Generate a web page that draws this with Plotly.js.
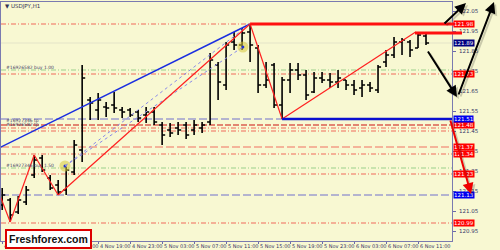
<!DOCTYPE html>
<html><head><meta charset="utf-8">
<script src="https://cdn.plot.ly/plotly-3.0.1.min.js"></script>
<style>html,body{margin:0;padding:0;background:#f8f8d2}#c{width:500px;height:250px}</style>
</head><body><div id="c"></div>
<script>
// ---- data (USDJPY H1) ----
const opens  = [121.08,121.105,121.045,121.095,121.23,121.315,121.215,121.18,121.155,121.245,121.355,121.605,121.555,121.57,121.58,121.555,121.555,121.545,121.53,121.545,121.48,121.455,121.465,121.48,121.455,121.465,121.495,121.78,121.68,121.895,121.88,121.945,121.865,121.68,121.78,121.58,121.705,121.755,121.73,121.645,121.715,121.705,121.695,121.705,121.68,121.665,121.68,121.655,121.795,121.83,121.895,121.895,121.865,121.925];
const highs  = [121.165,121.115,121.125,121.175,121.33,121.33,121.23,121.205,121.27,121.405,121.78,121.62,121.64,121.595,121.645,121.57,121.565,121.555,121.57,121.57,121.495,121.49,121.495,121.495,121.505,121.495,121.84,121.795,121.895,121.945,121.965,121.985,121.88,121.795,121.79,121.72,121.79,121.79,121.755,121.745,121.745,121.74,121.755,121.705,121.705,121.705,121.695,121.78,121.855,121.92,121.915,121.905,121.945,121.94];
const lows   = [121.055,120.995,121.035,121.08,121.215,121.245,121.155,121.13,121.13,121.23,121.295,121.505,121.505,121.52,121.54,121.515,121.52,121.495,121.49,121.48,121.38,121.42,121.43,121.41,121.43,121.44,121.48,121.605,121.655,121.855,121.855,121.795,121.64,121.665,121.565,121.51,121.64,121.705,121.605,121.64,121.69,121.665,121.665,121.655,121.63,121.62,121.645,121.64,121.77,121.815,121.83,121.82,121.865,121.88];
const closes = [121.13,121.03,121.105,121.155,121.305,121.255,121.165,121.145,121.255,121.38,121.715,121.59,121.605,121.565,121.565,121.545,121.53,121.515,121.545,121.495,121.43,121.44,121.455,121.43,121.48,121.48,121.805,121.695,121.88,121.88,121.94,121.88,121.68,121.705,121.58,121.705,121.755,121.73,121.63,121.715,121.705,121.695,121.715,121.68,121.655,121.68,121.665,121.77,121.83,121.895,121.905,121.855,121.93,121.89];
const tickBars   = [0,4,8,12,16,20,24,28,32,36,40,44,48,52];
const tickLabels = ["4 Nov 07:00","4 Nov 11:00","4 Nov 15:00","4 Nov 19:00","4 Nov 23:00","5 Nov 03:00","5 Nov 07:00","5 Nov 11:00","5 Nov 15:00","5 Nov 19:00","5 Nov 23:00","6 Nov 03:00","6 Nov 07:00","6 Nov 11:00"];
const priceTicks = [120.95,121.05,121.15,121.25,121.35,121.45,121.55,121.65,121.75,121.85,121.95,122.05];
// horizontal levels
const redDashDotLevels = [121.985,121.735,121.465,121.45,121.335,121.235,120.99];
const greenLevels      = [121.755,121.265];
const blueDashLevels   = [121.51,121.13];
const darkRedLevels    = [121.48];
const redDashLevels    = [121.37];
const bidPrice = 121.89;
// price boxes on the right scale
const redBoxPrices  = [121.985,121.735,121.48,121.37,121.335,121.235,120.99];
const redBoxLabels  = ["121.98","121.73","121.48","121.37","121.34","121.23","120.99"];
const blueBoxPrices = [121.51,121.13];
const blueBoxLabels = ["121.51","121.13"];
// trend lines [bar, price]
const zigzag   = [[-0.4,121.14],[1,120.995],[4,121.33],[7,121.13],[31,121.985],[35,121.51],[51.7,121.945]];
const channel  = [[-0.4,121.365],[31,121.985]];
const dotted1  = [[7.85,121.275],[31,121.985]];
const dotted2  = [[7.85,121.275],[30.1,121.87]];
// order markers
const orderBars   = [7.85,30.1];
const orderPrices = [121.275,121.87];
// order labels
const orderLabels = [["#16926582 buy 1.00",121.755],["#16927346 tp",121.49],["#16926582 tp",121.472],["#16927346 buy 1.50",121.265]];
const resistance = 121.985, resistance2 = 121.94, support = 121.51;

// ---- layout geometry ----
const W=500,H=250,L=1,R=48,T=2,B=9;
const xr=[-0.15,56.25], yr=[120.90,122.095];
const pw=W-L-R, ph=H-T-B;
const xp = i => (i-xr[0])/(xr[1]-xr[0]);           // bar -> paper
const pxp = px => (px-L)/pw;                        // pixel -> paper x
const pyp = py => (H-B-py)/ph;                      // pixel -> paper y

const bars = opens.map((_,i)=>i);
const traces = [{
  type:'ohlc', x:bars, open:opens, high:highs, low:lows, close:closes,
  increasing:{line:{color:'#000000',width:1.6}}, decreasing:{line:{color:'#000000',width:1.6}},
  tickwidth:0.38, hoverinfo:'skip', showlegend:false
},{
  type:'scatter', mode:'markers', x:orderBars, y:orderPrices, hoverinfo:'skip', showlegend:false,
  marker:{size:11,color:'rgba(215,200,60,0.55)',line:{width:0}}
},{
  type:'scatter', mode:'markers', x:orderBars, y:orderPrices, hoverinfo:'skip', showlegend:false,
  marker:{size:3,color:'#2233cc'}
}];

const shapes=[];
const hline=(p,color,dash,w)=>shapes.push({type:'line',xref:'paper',x0:0,x1:1,yref:'y',y0:p,y1:p,layer:'below',line:{color,width:w||1,dash}});
shapes.push({type:'line',xref:'paper',x0:0,x1:1,yref:'y',y0:bidPrice,y1:bidPrice,layer:'below',line:{color:'#e4e4c8',width:1}});
redDashDotLevels.forEach(p=>hline(p,'#f06a5a','5px,2px,1px,2px'));
greenLevels.forEach(p=>hline(p,'#9ad08a','5px,2px,1px,2px'));
blueDashLevels.forEach(p=>hline(p,'#7070cc','8px,3px'));
darkRedLevels.forEach(p=>hline(p,'#cc1010','6px,2px'));
redDashLevels.forEach(p=>hline(p,'#f07060','8px,3px'));
const seg=(pts,color,w,dash)=>{for(let k=0;k<pts.length-1;k++)shapes.push({type:'line',xref:'x',yref:'y',x0:pts[k][0],y0:pts[k][1],x1:pts[k+1][0],y1:pts[k+1][1],line:{color,width:w,dash}});};
seg(channel,'#1a2ee0',1.5);
seg(dotted1,'#8a8ae8',1,'dot');
seg(dotted2,'#8a8ae8',1,'dot');
seg(zigzag,'#ff2020',1.2);
// thick levels
shapes.push({type:'line',xref:'paper',yref:'y',x0:xp(31),x1:pxp(472),y0:resistance,y1:resistance,line:{color:'#ff1010',width:3}});
shapes.push({type:'line',xref:'paper',yref:'y',x0:pxp(415),x1:pxp(462),y0:resistance2,y1:resistance2,line:{color:'#ff1010',width:3}});
shapes.push({type:'line',xref:'paper',yref:'y',x0:xp(35),x1:1,y0:support,y1:support,line:{color:'#0a10d0',width:2.5}});

const ann=[];
// x tick labels (left-aligned at their tick, MetaTrader style)
tickBars.forEach((b,k)=>ann.push({xref:'paper',yref:'paper',x:xp(b),y:pyp(242),xanchor:'left',yanchor:'top',xshift:1,
  text:tickLabels[k],showarrow:false,borderpad:0,font:{family:'DejaVu Sans',size:5,color:'#333366'}}));
// right price boxes
const box=(p,t,bg)=>ann.push({xref:'paper',yref:'y',x:1,y:p,xanchor:'left',yanchor:'middle',xshift:1,text:t,showarrow:false,
  bgcolor:bg,borderpad:0,font:{family:'DejaVu Sans',size:5.5,color:'#ffffff'}});
redBoxPrices.forEach((p,k)=>box(p,redBoxLabels[k],'#ff0000'));
blueBoxPrices.forEach((p,k)=>box(p,blueBoxLabels[k],'#0000ee'));
box(bidPrice,bidPrice.toFixed(2),'#000080');
// order labels
orderLabels.forEach(o=>ann.push({xref:'paper',yref:'y',x:pxp(5),y:o[1],xanchor:'left',yanchor:'bottom',text:o[0],showarrow:false,
  font:{family:'DejaVu Sans',size:4.5,color:'#444466'},borderpad:0,yshift:-1}));
// title
ann.push({xref:'paper',yref:'paper',x:pxp(3),y:pyp(1),xanchor:'left',yanchor:'top',text:'▼ USDJPY,H1',showarrow:false,
  font:{family:'DejaVu Sans',size:5.5,color:'#333355'}});
// arrows (head position, tail offset)
const arrow=(hx,hy,tx,ty,color,w)=>{
  ann.push({xref:'paper',yref:'paper',x:pxp(hx+2),y:pyp(hy+2),ax:tx-hx,ay:ty-hy,text:'',showarrow:true,arrowhead:2,arrowsize:1.1,arrowwidth:w,arrowcolor:'rgba(0,0,0,0.18)'});
  ann.push({xref:'paper',yref:'paper',x:pxp(hx),y:pyp(hy),ax:tx-hx,ay:ty-hy,text:'',showarrow:true,arrowhead:2,arrowsize:1.1,arrowwidth:w,arrowcolor:color});
};
arrow(466,3,443,25,'#000000',2);
arrow(457,97,427,50,'#000000',2);
arrow(494,2,458,96,'#000000',2);
arrow(471,194,450,119,'#ee0000',2);
// logo
ann.push({xref:'paper',yref:'paper',x:pxp(5),y:pyp(249),xanchor:'left',yanchor:'bottom',text:'<b>Freshforex.com</b>',showarrow:false,
  bgcolor:'#ffffff',bordercolor:'#dd0000',borderwidth:2,borderpad:2,font:{family:'Liberation Sans, Arial',size:10.5,color:'#111111'}});

const layout={
  width:W,height:H,margin:{l:L,r:R,t:T,b:B},
  paper_bgcolor:'#f8f8d2',plot_bgcolor:'#f8f8d2',showlegend:false,
  xaxis:{range:xr,tickvals:tickBars,showticklabels:false,ticks:'outside',ticklen:2,tickcolor:'#6a6aaa',
    showgrid:false,zeroline:false,showline:true,linecolor:'#7a7ab0',linewidth:1,mirror:true,rangeslider:{visible:false},fixedrange:true},
  yaxis:{range:yr,side:'right',tickvals:priceTicks,ticktext:priceTicks.map(v=>v.toFixed(2)),ticks:'outside',ticklen:3,tickcolor:'#6a6aaa',
    tickfont:{family:'DejaVu Sans',size:5.5,color:'#333366'},ticklabelstandoff:2,
    showgrid:false,zeroline:false,showline:true,linecolor:'#7a7ab0',linewidth:1,mirror:true,fixedrange:true},
  shapes:shapes,annotations:ann
};
Plotly.newPlot('c',traces,layout,{staticPlot:true,displayModeBar:false});
</script></body></html>
